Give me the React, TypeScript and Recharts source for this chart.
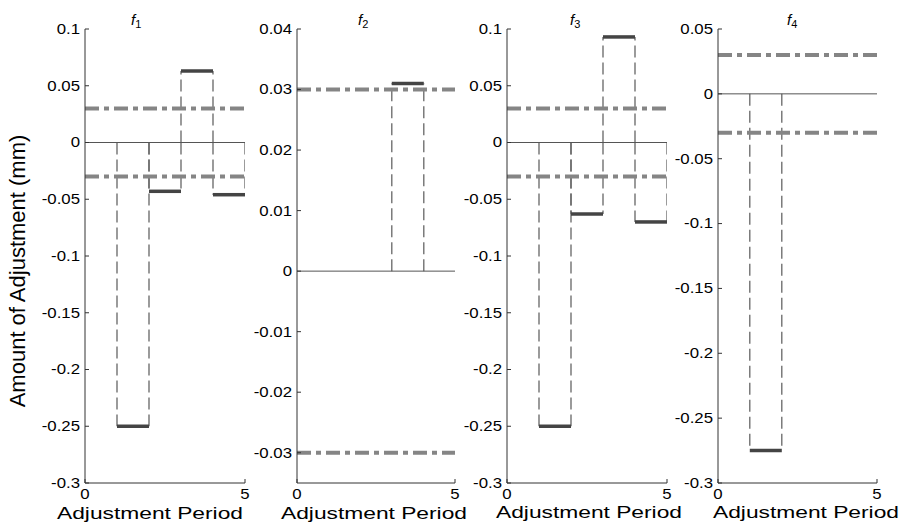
import React from 'react';
import { ComposedChart, Bar, XAxis, YAxis, ReferenceLine } from 'recharts';

// Adjustment applied in each period (mm)
const periods = [1, 2, 3, 4, 5];
const f1Values = [0, -0.25, -0.043, 0.063, -0.046];
const f2Values = [0, 0, 0, 0.031, 0];
const f3Values = [0, -0.25, -0.063, 0.093, -0.07];
const f4Values = [0, -0.275, 0, 0, 0];

// Tolerance band shown as dash-dot lines
const limits = [0.03, -0.03];

// Axis ticks
const xTicks = [0, 5];
const f1Ticks = [-0.3, -0.25, -0.2, -0.15, -0.1, -0.05, 0, 0.05, 0.1];
const f2Ticks = [-0.03, -0.02, -0.01, 0, 0.01, 0.02, 0.03, 0.04];
const f3Ticks = [-0.3, -0.25, -0.2, -0.15, -0.1, -0.05, 0, 0.05, 0.1];
const f4Ticks = [-0.3, -0.25, -0.2, -0.15, -0.1, -0.05, 0, 0.05];
const panelNames = ['1', '2', '3', '4'];

const FONT = '"Liberation Sans", Arial, Helvetica, sans-serif';
const AXIS = '#333';

interface PanelSpec {
  sub: string;
  values: number[];
  ticks: number[];
  domain: [number, number];
}

const panels: PanelSpec[] = [
  { sub: panelNames[0], values: f1Values, ticks: f1Ticks, domain: [-0.3, 0.1] },
  { sub: panelNames[1], values: f2Values, ticks: f2Ticks, domain: [-0.035, 0.04] },
  { sub: panelNames[2], values: f3Values, ticks: f3Ticks, domain: [-0.3, 0.1] },
  { sub: panelNames[3], values: f4Values, ticks: f4Ticks, domain: [-0.3, 0.05] },
];

// layout of each subplot (page px)
const plotLefts = [85, 297, 507, 718];
const plotWidths = [160, 158, 160, 159];
const titleX = [131, 358, 570, 787];
const labelX = [150, 374, 589, 806];
const labelBaseline = [519, 519, 518, 518];

const Y_AXIS_W = 50;
const X_AXIS_H = 20;
const M_TOP = 10;
const M_RIGHT = 10;
const TOP = 29 - M_TOP;
const CHART_H = M_TOP + 454 + X_AXIS_H;

const YTick = (props: any) => {
  const { x, y, payload } = props;
  return (
    <g>
      <line x1={x} x2={x + 4} y1={y} y2={y} stroke={AXIS} strokeWidth={1} />
      <text
        transform={`translate(${x - 5},${y}) scale(1.2,1)`}
        textAnchor="end"
        dy="0.35em"
        fontSize={14}
        fontFamily={FONT}
        fill="#000"
      >
        {String(payload.value)}
      </text>
    </g>
  );
};

const XTick = (props: any) => {
  const { x, y, payload } = props;
  return (
    <g>
      <line x1={x} x2={x} y1={y} y2={y - 4} stroke={AXIS} strokeWidth={1} />
      <text
        transform={`translate(${x},${y + 16}) scale(1.2,1)`}
        textAnchor="middle"
        fontSize={14}
        fontFamily={FONT}
        fill="#000"
      >
        {String(payload.value)}
      </text>
    </g>
  );
};

// dashed sides from zero to the value, thick segment at the value
const StepShape = (props: any) => {
  const { x, y, width, height, payload } = props;
  const v = payload?.v ?? 0;
  if (!v) return null;
  const a = y;
  const b = y + height;
  const edge = v > 0 ? Math.min(a, b) : Math.max(a, b);
  const base = v > 0 ? Math.max(a, b) : Math.min(a, b);
  return (
    <g>
      <line x1={x} x2={x} y1={base} y2={edge} stroke="#666" strokeWidth={1.3} strokeDasharray="12 5" />
      <line x1={x + width} x2={x + width} y1={base} y2={edge} stroke="#666" strokeWidth={1.3} strokeDasharray="12 5" />
      <line x1={x} x2={x + width} y1={edge} y2={edge} stroke="#444" strokeWidth={3.5} />
    </g>
  );
};

function Panel({ spec, index }: { spec: PanelSpec; index: number }) {
  // each period occupies [period-1, period] on the x axis
  const data = periods.map((p, i) => ({ mid: p - 0.5, v: spec.values[i] }));
  const width = Y_AXIS_W + plotWidths[index] + M_RIGHT;
  return (
    <div style={{ position: 'absolute', left: plotLefts[index] - Y_AXIS_W, top: TOP }}>
      <ComposedChart
        width={width}
        height={CHART_H}
        data={data}
        margin={{ top: M_TOP, right: M_RIGHT, left: 0, bottom: 0 }}
        barCategoryGap={0}
        barGap={0}
      >
        <XAxis
          dataKey="mid"
          type="number"
          domain={[0, 5]}
          ticks={xTicks}
          allowDataOverflow
          interval={0}
          height={X_AXIS_H}
          tickSize={0}
          tickMargin={0}
          tickLine={false}
          axisLine={{ stroke: AXIS }}
          tick={<XTick />}
        />
        <YAxis
          type="number"
          domain={spec.domain}
          ticks={spec.ticks}
          allowDataOverflow
          interval={0}
          width={Y_AXIS_W}
          tickSize={0}
          tickMargin={0}
          tickLine={false}
          axisLine={{ stroke: AXIS }}
          tick={<YTick />}
        />
        <ReferenceLine y={0} stroke="#555" strokeWidth={1} />
        {limits.map((l) => (
          <ReferenceLine key={l} y={l} stroke="#858585" strokeWidth={4} strokeDasharray="14 5 5 5" />
        ))}
        <Bar dataKey="v" shape={<StepShape />} isAnimationActive={false} />
      </ComposedChart>
    </div>
  );
}

export default function App() {
  return (
    <div style={{ position: 'absolute', left: 0, top: 0, width: 907, height: 523, background: '#fff', overflow: 'hidden' }}>
      <svg width={907} height={523} style={{ position: 'absolute', left: 0, top: 0 }}>
        <text
          transform="translate(25,271) rotate(-90)"
          textAnchor="middle"
          fontSize={22}
          fontFamily={FONT}
          fill="#000"
        >
          Amount of Adjustment (mm)
        </text>
        {panels.map((p, i) => (
          <text key={`t${i}`} x={titleX[i]} y={25} fontSize={15} fontFamily={FONT} fill="#000">
            <tspan fontStyle="italic">f</tspan>
            <tspan fontSize={11} dy={3}>{p.sub}</tspan>
          </text>
        ))}
        {panels.map((p, i) => (
          <text
            key={`x${i}`}
            transform={`translate(${labelX[i]},${labelBaseline[i]}) scale(1.34,1)`}
            textAnchor="middle"
            fontSize={17}
            fontFamily={FONT}
            fill="#000"
          >
            Adjustment Period
          </text>
        ))}
      </svg>
      {panels.map((p, i) => (
        <Panel key={i} spec={p} index={i} />
      ))}
    </div>
  );
}
